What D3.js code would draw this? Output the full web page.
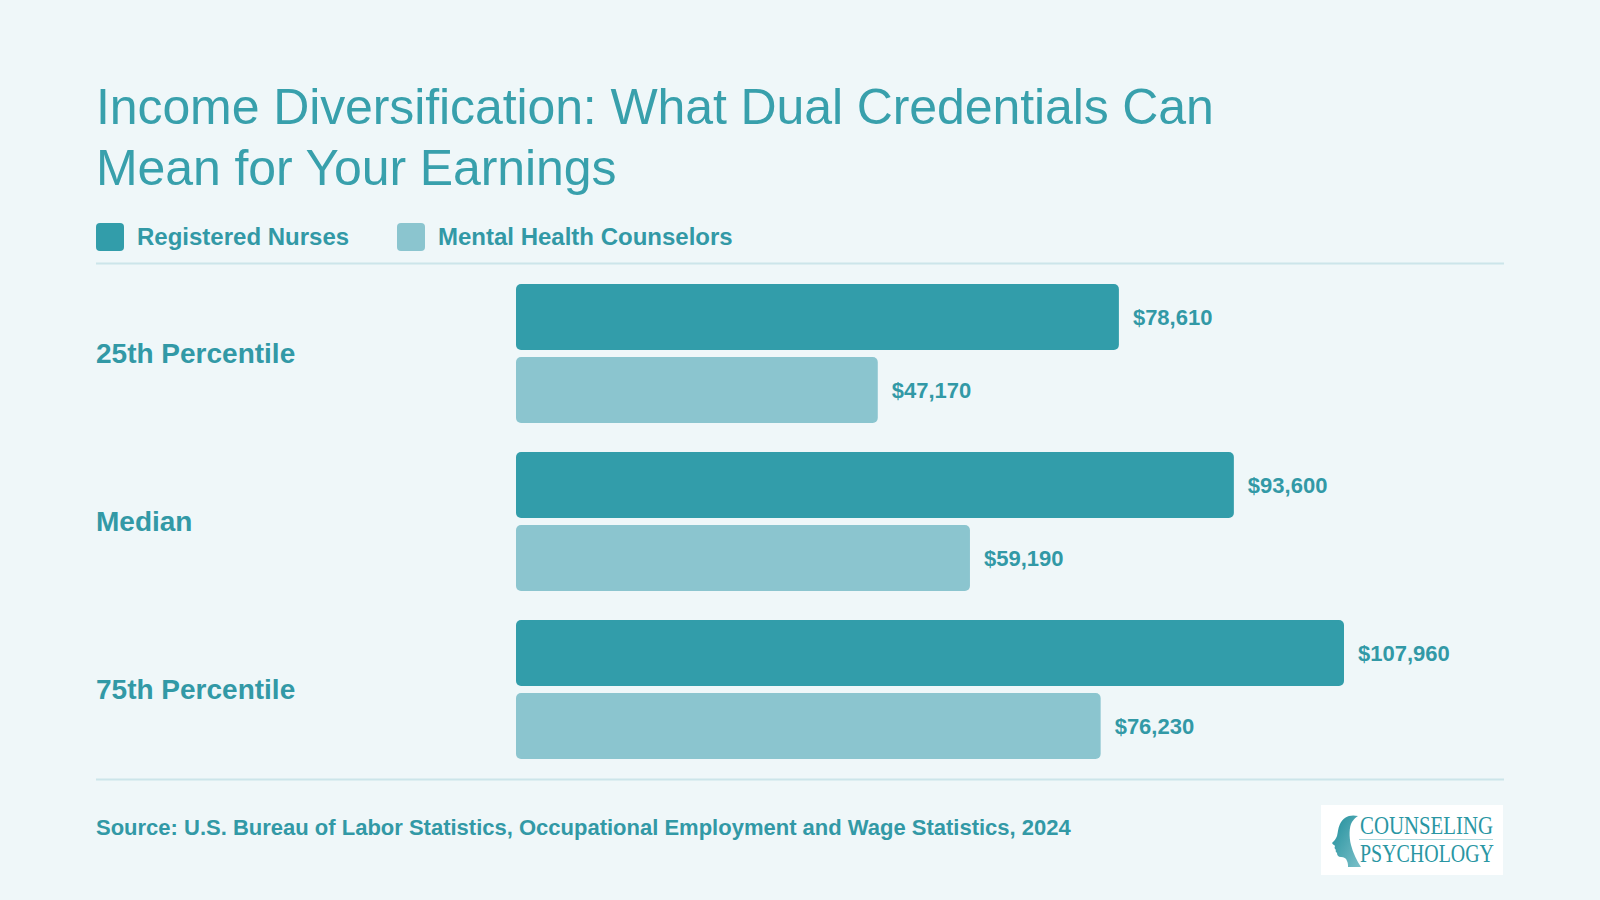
<!DOCTYPE html>
<html>
<head>
<meta charset="utf-8">
<script src="https://cdn.jsdelivr.net/npm/d3@7"></script>
<style>
  html, body { margin: 0; padding: 0; background: #eff7f9; }
  svg { display: block; font-family: "Liberation Sans", Arial, Helvetica, sans-serif; }
</style>
</head>
<body>
<script>
// data
var categories = ["25th Percentile", "Median", "75th Percentile"];
var seriesNames = ["Registered Nurses", "Mental Health Counselors"];
var nurses = [78610, 93600, 107960];
var counselors = [47170, 59190, 76230];
var titleLines = ["Income Diversification: What Dual Credentials Can", "Mean for Your Earnings"];
var sourceText = "Source: U.S. Bureau of Labor Statistics, Occupational Employment and Wage Statistics, 2024";

var colors = ["#329daa", "#8bc5cf"];
var teal = "#3299a6";

var width = 1600, height = 900;

var svg = d3.select("body").append("svg")
    .attr("width", width)
    .attr("height", height);

svg.append("rect")
    .attr("width", width)
    .attr("height", height)
    .attr("fill", "#eff7f9");

// title
svg.append("g").selectAll("text")
    .data(titleLines)
    .enter().append("text")
    .attr("x", 96)
    .attr("y", (d, i) => 124 + i * 61)
    .attr("fill", "#38a0ac")
    .style("font-size", "50px")
    .style("letter-spacing", "-0.1px")
    .text(d => d);

// legend
var legend = svg.append("g").attr("transform", "translate(96,223)");
var legendX = [0, 301];
var lg = legend.selectAll("g")
    .data(seriesNames)
    .enter().append("g")
    .attr("transform", (d, i) => "translate(" + legendX[i] + ",0)");
lg.append("rect")
    .attr("width", 28)
    .attr("height", 28)
    .attr("rx", 4)
    .attr("fill", (d, i) => colors[i]);
lg.append("text")
    .attr("x", 41)
    .attr("y", 14)
    .attr("dy", "0.35em")
    .attr("fill", teal)
    .style("font-size", "24px")
    .style("font-weight", "bold")
    .text(d => d);

// separators
svg.selectAll(".sep")
    .data([263.5, 779.5])
    .enter().append("line")
    .attr("class", "sep")
    .attr("x1", 96)
    .attr("x2", 1504)
    .attr("y1", d => d)
    .attr("y2", d => d)
    .attr("stroke", "#cce5ea")
    .attr("stroke-width", 2);

// scales
var xScale = d3.scaleLinear()
    .domain([0, 107960])
    .range([516, 1344]);

var yScale = d3.scaleBand()
    .domain(categories)
    .range([284, 759])
    .paddingInner(29 / 168)
    .paddingOuter(0);

var ySub = d3.scaleBand()
    .domain([0, 1])
    .range([0, yScale.bandwidth()])
    .paddingInner(7 / 73);

var rows = categories.map(function (c, i) {
    return { cat: c, values: [nurses[i], counselors[i]] };
});

var groups = svg.selectAll(".group")
    .data(rows)
    .enter().append("g")
    .attr("class", "group")
    .attr("transform", d => "translate(0," + yScale(d.cat) + ")");

groups.append("text")
    .attr("x", 96)
    .attr("y", yScale.bandwidth() / 2)
    .attr("dy", "0.35em")
    .attr("fill", teal)
    .style("font-size", "28px")
    .style("font-weight", "bold")
    .text(d => d.cat);

var bars = groups.selectAll(".bar")
    .data(d => d.values.map((v, i) => ({ v: v, i: i })))
    .enter();

bars.append("rect")
    .attr("class", "bar")
    .attr("x", xScale(0))
    .attr("y", d => ySub(d.i))
    .attr("width", d => xScale(d.v) - xScale(0))
    .attr("height", ySub.bandwidth())
    .attr("rx", 5)
    .attr("fill", d => colors[d.i]);

bars.append("text")
    .attr("x", d => xScale(d.v) + 14)
    .attr("y", d => ySub(d.i) + ySub.bandwidth() / 2)
    .attr("dy", "0.35em")
    .attr("fill", teal)
    .style("font-size", "22px")
    .style("font-weight", "bold")
    .text(d => "$" + d3.format(",")(d.v));

// source
svg.append("text")
    .attr("x", 96)
    .attr("y", 835)
    .attr("fill", teal)
    .style("font-size", "22px")
    .style("font-weight", "bold")
    .text(sourceText);

// logo
var logo = svg.append("g").attr("transform", "translate(1321,805)");
logo.append("rect")
    .attr("width", 182)
    .attr("height", 70)
    .attr("fill", "#ffffff");

var grad = svg.append("defs").append("linearGradient")
    .attr("id", "headGrad")
    .attr("x1", "0").attr("y1", "0").attr("x2", "1").attr("y2", "1");
grad.append("stop").attr("offset", "0").attr("stop-color", "#1f8e9b");
grad.append("stop").attr("offset", "1").attr("stop-color", "#7cc0c9");

// head silhouette, facing left
logo.append("path")
    .attr("d", "M37,11 C29,9 22,12 19,19 C17,23 17,27 16,31 C15,34 13,36 11,38 C12,40 14,40 14,41 C13,43 14,44 15,45 C14,46 15,47 16,48 C16,50 17,52 20,52 C23,52 25,53 26,56 C27,58 27,60 27,62 L40,62 C36,56 32,48 30,40 C28,32 28,22 31,17 C33,14 35,12 37,11 Z")
    .attr("fill", "url(#headGrad)");

logo.append("text")
    .attr("x", 39)
    .attr("y", 29)
    .attr("textLength", 133)
    .attr("lengthAdjust", "spacingAndGlyphs")
    .attr("fill", "#2a96a3")
    .style("font-family", "'Liberation Serif', 'DejaVu Serif', serif")
    .style("font-size", "25px")
    .text("COUNSELING");

logo.append("line")
    .attr("x1", 38).attr("x2", 172)
    .attr("y1", 34.5).attr("y2", 34.5)
    .attr("stroke", "#a9d6dc")
    .attr("stroke-width", 1);

logo.append("text")
    .attr("x", 39)
    .attr("y", 57)
    .attr("textLength", 134)
    .attr("lengthAdjust", "spacingAndGlyphs")
    .attr("fill", "#2a96a3")
    .style("font-family", "'Liberation Serif', 'DejaVu Serif', serif")
    .style("font-size", "25px")
    .text("PSYCHOLOGY");
</script>
</body>
</html>
